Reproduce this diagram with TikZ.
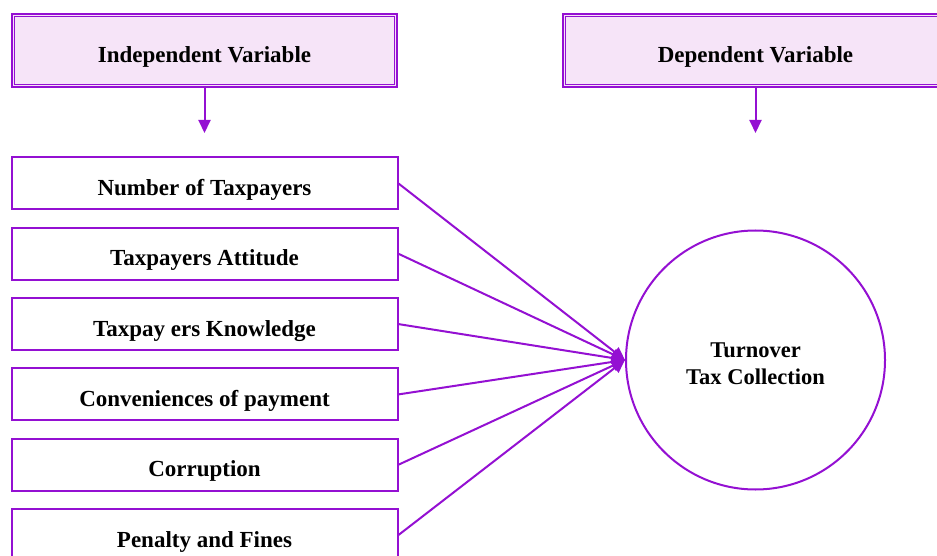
\documentclass[tikz,border=0pt]{standalone}
\usepackage{fontspec}
\setmainfont{Liberation Serif}
\usepackage{tikz}
\usetikzlibrary{arrows.meta,positioning}

\definecolor{varline}{RGB}{148,16,210}
\definecolor{varfill}{RGB}{246,228,248}

\begin{document}
\begin{tikzpicture}[x=1pt,y=-1pt,
 head/.style={draw=varline,line width=1.8pt,fill=varfill,
 minimum width=385pt,minimum height=73pt,text height=24pt,text depth=0pt,
 font=\fontsize{23}{27}\selectfont\bfseries},
 inner/.style={draw=varline,line width=1.1pt},
 factor/.style={draw=varline,line width=2pt,minimum width=386pt,minimum height=52pt,
 text height=24pt,text depth=0pt,font=\fontsize{23}{27}\selectfont\bfseries},
 target/.style={circle,draw=varline,line width=2pt,minimum size=259pt},
 targettext/.style={align=center,font=\fontsize{22.5}{27}\selectfont\bfseries},
 link/.style={draw=varline,line width=2pt,-{Triangle[length=13pt,width=12pt]}}]
\useasboundingbox (0,0) rectangle (937,556);
\node[head] (indep) at (204.5,50.5) {Independent Variable};
\node[head] (dep) at (755.5,50.5) {Dependent Variable};
% inner line of the double frames
\draw[inner] ([shift={(3.3,3.3)}]indep.north west) rectangle ([shift={(-3.3,-3.3)}]indep.south east);
\draw[inner] ([shift={(3.3,3.3)}]dep.north west) rectangle ([shift={(-3.3,-3.3)}]dep.south east);
\coordinate (independ) at (204.5,133);
\coordinate (depend) at (755.5,133);
\draw[link] (indep)--(independ);
\draw[link] (dep)--(depend);
% the six factors, top to bottom
\node[factor] (f1) at (204.5,183.5) {Number of Taxpayers};
\node[factor] (f2) at (204.5,253.8) {Taxpayers Attitude};
\node[factor] (f3) at (204.5,324.1) {Taxpay ers Knowledge};
\node[factor] (f4) at (204.5,394.4) {Conveniences of payment};
\node[factor] (f5) at (204.5,464.7) {Corruption};
\node[factor] (f6) at (204.5,535) {Penalty and Fines};
\node[target] (tax) at (755.5,360) {};
\node[targettext] (taxlabel) at (755.5,364) {Turnover\\Tax Collection};
\foreach \f in {f1,f2,f3,f4,f5,f6}
 \draw[link] (\f.east)--(tax.west);
\end{tikzpicture}
\end{document}
